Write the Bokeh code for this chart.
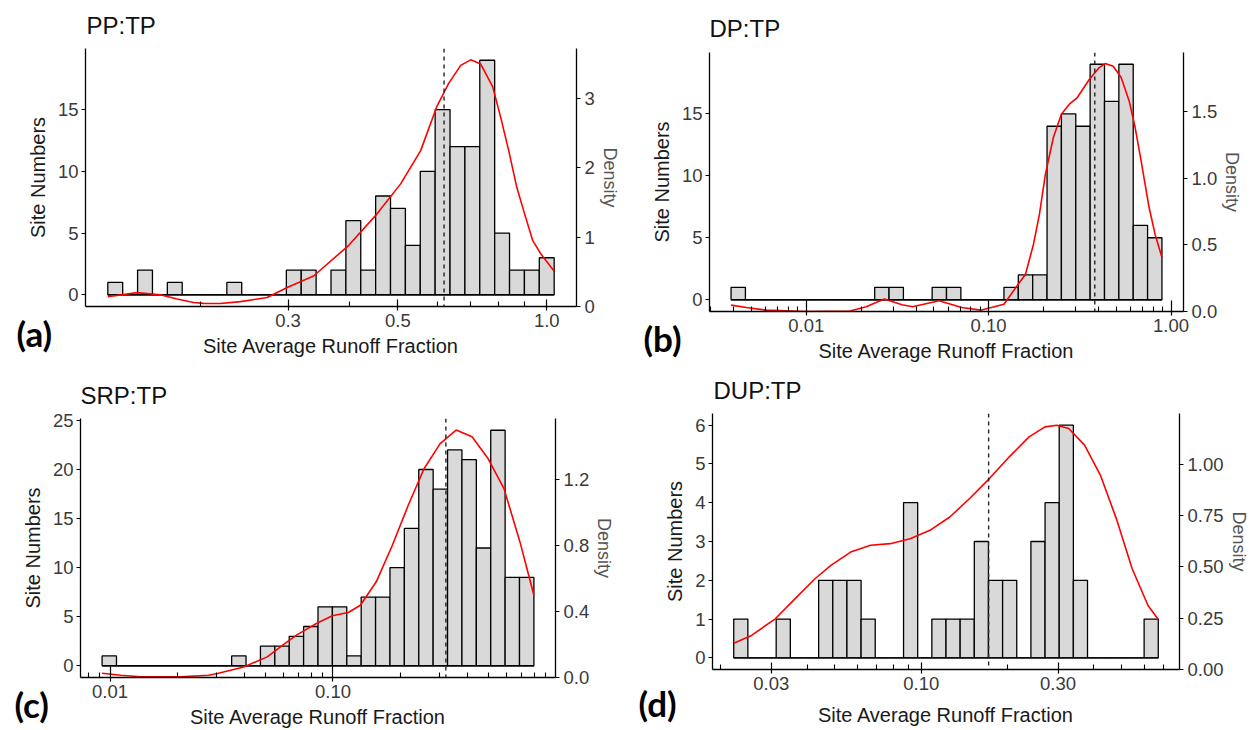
import numpy as np
from bokeh.plotting import figure
from bokeh.models import Range1d, LinearAxis, FixedTicker, Span, Title, PrintfTickFormatter
from bokeh.layouts import column, row
from bokeh.embed import file_html
from bokeh.resources import INLINE

# ---------------- data ----------------
X_LABEL = "Site Average Runoff Fraction"
Y_LABEL = "Site Numbers"
DENS_LABEL = "Density"

# (a) PP:TP
A_TITLE = "PP:TP"
A_BIN_RANGE = [0.1297, 1.035]
A_COUNTS = [1, 0, 2, 0, 1, 0, 0, 0, 1, 0, 0, 0, 2, 2, 0, 2, 6, 2, 8, 7, 4, 10, 15, 12, 12, 19, 5, 2, 2, 3]
A_DENS_X = [0.1297, 0.1486, 0.1656, 0.1790, 0.1934, 0.2026, 0.2190, 0.2404, 0.2722, 0.2988, 0.3378,
            0.3975, 0.4530, 0.5066, 0.5561, 0.5990, 0.6335, 0.6699, 0.7018, 0.7355, 0.7776, 0.8070,
            0.8377, 0.8697, 0.9026, 0.9369, 0.9725, 1.035]
A_DENS_Y = [0.14, 0.20, 0.17, 0.107, 0.058, 0.045, 0.043, 0.07, 0.13, 0.275, 0.44,
            0.88, 1.33, 1.77, 2.25, 2.88, 3.22, 3.48, 3.56, 3.50, 3.17, 2.73,
            2.25, 1.72, 1.33, 0.95, 0.76, 0.51]
A_MEDIAN = 0.62
A_XTICKS = [0.3, 0.5, 1.0]
A_YTICKS = [0, 5, 10, 15]
A_DTICKS = [0, 1, 2, 3]
A_DENS_MAX = 3.724

# (b) DP:TP
B_TITLE = "DP:TP"
B_BIN_RANGE = [0.00387, 0.892]
B_COUNTS = [1, 0, 0, 0, 0, 0, 0, 0, 0, 0, 1, 1, 0, 0, 1, 1, 0, 0, 0, 1, 2, 2, 14, 15, 14, 19, 16, 19, 6, 5]
B_DENS_X = [0.00387, 0.0047, 0.00604, 0.0100, 0.0174, 0.0213, 0.0268, 0.0335, 0.0383, 0.0535, 0.0712,
            0.0904, 0.1213, 0.1593, 0.1762, 0.1900, 0.2048, 0.2265, 0.2505, 0.2771, 0.3064, 0.3563,
            0.4043, 0.4357, 0.4821, 0.5329, 0.5896, 0.6358, 0.6856, 0.7584, 0.8176, 0.892]
B_DENS_Y = [0.048, 0.03, 0.01, 0.0, 0.004, 0.035, 0.093, 0.05, 0.035, 0.08, 0.03,
            0.01, 0.055, 0.28, 0.505, 0.73, 1.03, 1.305, 1.48, 1.555, 1.605, 1.74,
            1.83, 1.86, 1.84, 1.755, 1.58, 1.38, 1.13, 0.78, 0.58, 0.405]
B_MEDIAN = 0.382
B_XTICKS = [0.01, 0.1, 1.0]
B_YTICKS = [0, 5, 10, 15]
B_DTICKS = [0.0, 0.5, 1.0, 1.5]
B_DENS_MAX = 1.943

# (c) SRP:TP
C_TITLE = "SRP:TP"
C_BIN_RANGE = [0.00921, 0.797]
C_COUNTS = [1, 0, 0, 0, 0, 0, 0, 0, 0, 1, 0, 2, 2, 3, 4, 6, 6, 1, 7, 7, 10, 14, 20, 18, 22, 21, 12, 24, 9, 9]
C_DENS_X = [0.00921, 0.01118, 0.0137, 0.0207, 0.0277, 0.0303, 0.0398, 0.0507, 0.0623, 0.0686, 0.0843,
            0.0994, 0.1172, 0.1327, 0.1564, 0.1845, 0.2176, 0.2565, 0.3025, 0.3568, 0.4207, 0.4962,
            0.5851, 0.6900, 0.7970]
C_DENS_Y = [0.026, 0.014, 0.005, 0.004, 0.014, 0.024, 0.064, 0.125, 0.216, 0.257, 0.327,
            0.374, 0.394, 0.438, 0.58, 0.80, 1.044, 1.267, 1.418, 1.50, 1.459, 1.327,
            1.145, 0.822, 0.499]
C_MEDIAN = 0.321
C_XTICKS = [0.01, 0.1, 1.0]
C_YTICKS = [0, 5, 10, 15, 20, 25]
C_DTICKS = [0.0, 0.4, 0.8, 1.2]
C_DENS_MAX = 1.57

# (d) DUP:TP
D_TITLE = "DUP:TP"
D_BIN_RANGE = [0.02218, 0.671]
D_COUNTS = [1, 0, 0, 1, 0, 0, 2, 2, 2, 1, 0, 0, 4, 0, 1, 1, 1, 3, 2, 2, 0, 3, 4, 6, 2, 0, 0, 0, 0, 1]
D_DENS_X = [0.02218, 0.02559, 0.03097, 0.03633, 0.04260, 0.04839, 0.05672, 0.06652, 0.07799, 0.09148,
            0.1072, 0.1258, 0.1475, 0.1729, 0.2028, 0.2377, 0.2701, 0.2972, 0.3269, 0.3713, 0.4218,
            0.4791, 0.5441, 0.6180, 0.671]
D_DENS_Y = [0.128, 0.166, 0.247, 0.345, 0.442, 0.507, 0.572, 0.605, 0.613, 0.637,
            0.678, 0.743, 0.833, 0.930, 1.036, 1.133, 1.182, 1.19, 1.174, 1.093, 0.946,
            0.735, 0.491, 0.312, 0.244]
D_MEDIAN = 0.1718
D_XTICKS = [0.03, 0.1, 0.3]
D_YTICKS = [0, 1, 2, 3, 4, 5, 6]
D_DTICKS = [0.0, 0.25, 0.5, 0.75, 1.0]
D_DENS_MAX = 1.247

# ---------------- layout / style ----------------
FONT = "Liberation Sans"
TH_TITLE = 26.8     # estimated text box heights used to place the titles
TH_XLAB = 22.3
TH_LETTER = 38.7
AXIS_EXT = 27.7
LAYOUT = {
    "a": dict(size=(625, 365), border=(85, 49, 48, 59), title_pos=(86, 23), letter_x=16, letter_h=4,
              xlab_cy=347, xfmt="%.1f", dfmt="%d", xtick_in=7),
    "b": dict(size=(626, 365), border=(84, 68, 52, 54), title_pos=(84, 28), letter_x=18, letter_h=4,
              xlab_cy=352, xfmt="%.2f", dfmt="%.1f", xtick_in=11),
    "c": dict(size=(625, 365), border=(80, 70, 53, 53), title_pos=(80, 30), letter_x=14, letter_h=4,
              xlab_cy=353, xfmt="%.2f", dfmt="%.1f", xtick_in=11),
    "d": dict(size=(626, 365), border=(87, 67, 48, 61), title_pos=(88, 25), letter_x=13, letter_h=17,
              xlab_cy=347, xfmt="%.2f", dfmt="%.2f", xtick_in=7),
}


def make_panel(key, title, bin_range, counts, dens_x, dens_y, median, xticks, yticks, dticks, dens_max):
    lay = LAYOUT[key]
    W, H = lay["size"]
    bl, br, bt, bb = lay["border"]
    n = len(counts)
    lo, hi = np.log10(bin_range[0]), np.log10(bin_range[1])
    edges = np.logspace(lo, hi, n + 1)
    pad = 0.05 * (hi - lo)
    xr = Range1d(10 ** (lo - pad), 10 ** (hi + pad))
    cmax = max(counts)
    yr = Range1d(-0.05 * cmax, 1.05 * cmax)

    p = figure(width=W, height=H, x_axis_type="log", x_range=xr, y_range=yr, title=None,
               output_backend="svg", toolbar_location=None,
               min_border_left=bl, min_border_right=br, min_border_top=bt, min_border_bottom=bb)
    try:
        p.frame_align = False
    except AttributeError:
        pass
    p.outline_line_color = None
    p.xgrid.visible = False
    p.ygrid.visible = False
    p.extra_y_ranges = {"dens": Range1d(0, dens_max)}

    # bars
    p.quad(left=edges[:-1], right=edges[1:], bottom=0, top=counts,
           fill_color="#D9D9D9", line_color="black", line_width=1.3)
    p.segment(x0=[edges[0]], y0=[0], x1=[edges[-1]], y1=[0], line_color="black", line_width=1.3)

    p.add_layout(Span(location=median, dimension="height", line_color="#222222",
                      line_dash="4 4", line_width=1.4))

    p.line(dens_x, dens_y, y_range_name="dens", line_color="#FF0000", line_width=1.6,
           line_join="round")

    # x axis
    minors = []
    for e in range(-4, 1):
        for k in range(1, 10):
            v = k * 10.0 ** e
            if xr.start <= v <= xr.end and not any(np.isclose(v, t) for t in xticks):
                minors.append(v)
    xa = p.xaxis[0]
    xa.ticker = FixedTicker(ticks=xticks, minor_ticks=minors)
    xa.formatter = PrintfTickFormatter(format=lay["xfmt"])

    ya = p.yaxis[0]
    ya.ticker = FixedTicker(ticks=yticks, minor_ticks=[])
    ya.axis_label = Y_LABEL

    ra = LinearAxis(y_range_name="dens", ticker=FixedTicker(ticks=dticks, minor_ticks=[]),
                    formatter=PrintfTickFormatter(format=lay["dfmt"]), axis_label=DENS_LABEL)
    p.add_layout(ra, "right")

    for ax in (xa, ya, ra):
        ax.axis_line_color = "black"
        ax.axis_line_width = 1.3
        ax.major_tick_line_color = "black"
        ax.major_tick_line_width = 1.2
        ax.major_tick_out = 4
        ax.major_tick_in = 0
        ax.minor_tick_line_color = "black"
        ax.minor_tick_line_width = 1.1
        ax.major_label_text_font = FONT
        ax.major_label_text_font_size = "18.5px"
        ax.major_label_text_color = "#3a3a3a"
        ax.axis_label_text_font = FONT
        ax.axis_label_text_font_style = "normal"
        ax.axis_label_text_font_size = "20px"
        ax.axis_label_text_color = "#1a1a1a"
        ax.major_label_standoff = 3
        ax.axis_label_standoff = 6
    xa.major_tick_in = lay["xtick_in"]
    xa.minor_tick_in = 5
    xa.minor_tick_out = 0
    ra.axis_label_text_font_size = "18px"
    ra.axis_label_text_color = "#555555"
    ra.major_label_standoff = 4
    ra.axis_label_standoff = 2

    # panel title (above the frame)
    tx, tcy = lay["title_pos"]
    h_t = min(2 * (bt - tcy), bt - 1)
    p.add_layout(Title(text=title, align="left", vertical_align="middle", offset=tx - bl,
                       standoff=h_t - 2 - TH_TITLE, text_font=FONT, text_font_size="24px",
                       text_font_style="normal", text_color="#111111"), "above")

    # panel letter and x-axis title (below the axis)
    h_l = lay["letter_h"]
    p.add_layout(Title(text="(" + key + ")", align="left", vertical_align="middle",
                       offset=lay["letter_x"] - bl, standoff=h_l - 2 - TH_LETTER, text_font="Lato",
                       text_font_size="35px", text_font_style="bold", text_color="black"), "below")
    top_x = (H - bb) + AXIS_EXT + h_l
    h_x = max(4, 2 * (lay["xlab_cy"] - top_x))
    p.add_layout(Title(text=X_LABEL, align="center", vertical_align="middle", offset=0,
                       standoff=h_x - 2 - TH_XLAB, text_font=FONT, text_font_size="20px",
                       text_font_style="normal", text_color="#1a1a1a"), "below")
    return p


pa = make_panel("a", A_TITLE, A_BIN_RANGE, A_COUNTS, A_DENS_X, A_DENS_Y, A_MEDIAN,
                A_XTICKS, A_YTICKS, A_DTICKS, A_DENS_MAX)
pb = make_panel("b", B_TITLE, B_BIN_RANGE, B_COUNTS, B_DENS_X, B_DENS_Y, B_MEDIAN,
                B_XTICKS, B_YTICKS, B_DTICKS, B_DENS_MAX)
pc = make_panel("c", C_TITLE, C_BIN_RANGE, C_COUNTS, C_DENS_X, C_DENS_Y, C_MEDIAN,
                C_XTICKS, C_YTICKS, C_DTICKS, C_DENS_MAX)
pd_ = make_panel("d", D_TITLE, D_BIN_RANGE, D_COUNTS, D_DENS_X, D_DENS_Y, D_MEDIAN,
                 D_XTICKS, D_YTICKS, D_DTICKS, D_DENS_MAX)

page = column(row(pa, pb), row(pc, pd_))

open("out.html", "w").write(file_html(page, INLINE))
